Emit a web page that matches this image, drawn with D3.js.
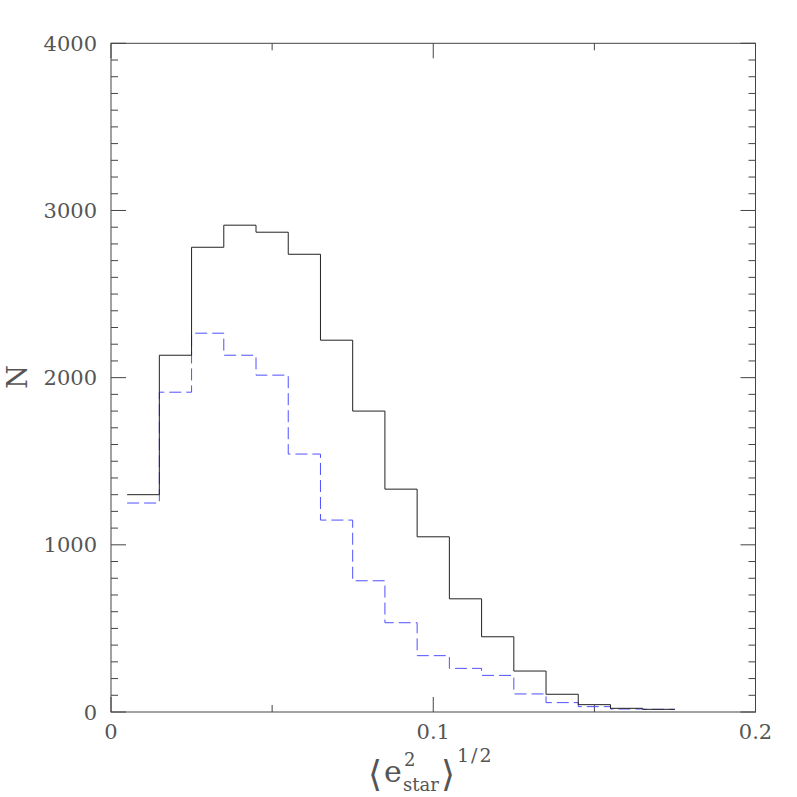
<!DOCTYPE html>
<html>
<head>
<meta charset="utf-8">
<script src="https://cdn.jsdelivr.net/npm/d3@7"></script>
<style>
  body { margin: 0; background: #fff; }
  text { font-family: "DejaVu Serif", "Liberation Serif", serif; fill: #555; }
</style>
</head>
<body>
<div id="container"></div>
<script>
// histogram bins, width 0.01, centred on these values
const binCenters = [0.01, 0.02, 0.03, 0.04, 0.05, 0.06, 0.07, 0.08, 0.09, 0.10,
                    0.11, 0.12, 0.13, 0.14, 0.15, 0.16, 0.17];
const solidCounts = [1300, 2134, 2780, 2912, 2870, 2738, 2224, 1800, 1333, 1048,
                     677, 450, 245, 106, 44, 22, 16];
const dashedCounts = [1250, 1913, 2266, 2134, 2015, 1543, 1148, 785, 534, 337,
                      261, 219, 108, 56, 32, 18, 16];
const binWidth = 0.01;
const xMajor = [0, 0.1, 0.2];
const xLabels = ["0", "0.1", "0.2"];
const yMajor = [0, 1000, 2000, 3000, 4000];

const w = 797, h = 797;
const pLeft = 111, pRight = 755.5, pTop = 43.3, pBottom = 712;

const svg = d3.select("#container").append("svg")
              .attr("width", w).attr("height", h);

const x = d3.scaleLinear().domain([0, 0.2]).range([pLeft, pRight]);
const y = d3.scaleLinear().domain([0, 4000]).range([pBottom, pTop]);

const frame = "#444";

// frame
svg.append("rect")
   .attr("x", pLeft).attr("y", pTop)
   .attr("width", pRight - pLeft).attr("height", pBottom - pTop)
   .attr("fill", "none").attr("stroke", frame).attr("stroke-width", 1);

// ticks: major long, minor short, on all four sides
const yMinor = d3.range(0, 4001, 100);
const xMinor = d3.range(0, 0.2001, 0.05);

svg.append("g").selectAll("line").data(yMinor).enter().append("line")
   .attr("x1", pLeft).attr("x2", d => pLeft + (d % 1000 === 0 ? 15 : 7))
   .attr("y1", d => y(d)).attr("y2", d => y(d))
   .attr("stroke", frame);
svg.append("g").selectAll("line").data(yMinor).enter().append("line")
   .attr("x1", pRight).attr("x2", d => pRight - (d % 1000 === 0 ? 15 : 7))
   .attr("y1", d => y(d)).attr("y2", d => y(d))
   .attr("stroke", frame);

const isMajorX = d => Math.abs(d * 10 - Math.round(d * 10)) < 1e-6;
svg.append("g").selectAll("line").data(xMinor).enter().append("line")
   .attr("x1", d => x(d)).attr("x2", d => x(d))
   .attr("y1", pBottom).attr("y2", d => pBottom - (isMajorX(d) ? 15 : 7))
   .attr("stroke", frame);
svg.append("g").selectAll("line").data(xMinor).enter().append("line")
   .attr("x1", d => x(d)).attr("x2", d => x(d))
   .attr("y1", pTop).attr("y2", d => pTop + (isMajorX(d) ? 15 : 7))
   .attr("stroke", frame);

// tick labels
svg.append("g").selectAll("text").data(yMajor).enter().append("text")
   .attr("x", 97).attr("y", d => y(d) + 7.5)
   .attr("text-anchor", "end")
   .style("font-size", "21px")
   .text(d => d);

svg.append("g").selectAll("text").data(xMajor).enter().append("text")
   .attr("x", d => x(d)).attr("y", 739)
   .attr("text-anchor", "middle")
   .style("font-size", "21px")
   .text((d, i) => xLabels[i]);

// histograms as steps
const stepPoints = counts => {
  const pts = binCenters.map((c, i) => [c - binWidth / 2, counts[i]]);
  pts.push([binCenters[binCenters.length - 1] + binWidth / 2, counts[counts.length - 1]]);
  return pts;
};
const line = d3.line().x(d => x(d[0])).y(d => y(d[1])).curve(d3.curveStepAfter);

svg.append("path")
   .attr("d", line(stepPoints(dashedCounts)))
   .attr("fill", "none").attr("stroke", "#5050ff").attr("stroke-width", 1)
   .attr("stroke-dasharray", "12,5");

svg.append("path")
   .attr("d", line(stepPoints(solidCounts)))
   .attr("fill", "none").attr("stroke", "#222").attr("stroke-width", 1);

// axis titles
svg.append("text")
   .attr("transform", "translate(27,377) rotate(-90)")
   .attr("text-anchor", "middle")
   .style("font-size", "27px")
   .text("N");

const xt = svg.append("text").style("font-size", "30px");
xt.append("tspan").attr("x", 368).attr("y", 786).style("font-size", "36px").text("\u27E8");
xt.append("tspan").attr("x", 384).attr("y", 782).text("e");
xt.append("tspan").attr("x", 404).attr("y", 766).style("font-size", "18px").text("2");
xt.append("tspan").attr("x", 403).attr("y", 791).style("font-size", "18px").text("star");
xt.append("tspan").attr("x", 441).attr("y", 786).style("font-size", "36px").text("\u27E9");
xt.append("tspan").attr("x", 457).attr("y", 762).style("font-size", "19px")
  .style("letter-spacing", "2px").text("1/2");
</script>
</body>
</html>
